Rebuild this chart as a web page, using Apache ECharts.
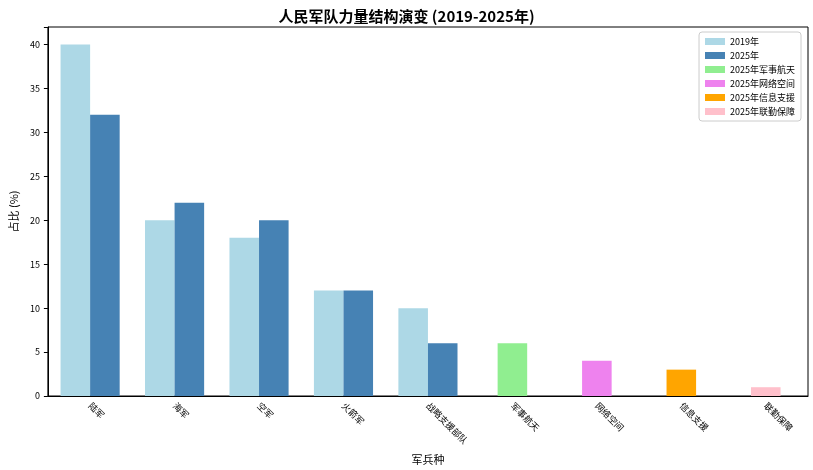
<!DOCTYPE html>
<html><head><meta charset="utf-8">
<script src="https://cdn.jsdelivr.net/npm/echarts@6/dist/echarts.min.js"></script>
<style>html,body{margin:0;padding:0;background:#fff}#c{width:813px;height:470px}</style>
</head><body><div id="c"></div>
<script>
const categories = ['陆军','海军','空军','火箭军','战略支援部队','军事航天','网络空间','信息支援','联勤保障'];
const v2019 = [40,20,18,12,10,null,null,null,null];
const v2025 = [32,22,20,12,6,null,null,null,null];
const newBranches = [
  {name:'2025年军事航天', idx:5, value:6, color:'#90ee90'},
  {name:'2025年网络空间', idx:6, value:4, color:'#ee82ee'},
  {name:'2025年信息支援', idx:7, value:3, color:'#ffa500'},
  {name:'2025年联勤保障', idx:8, value:1, color:'#ffc0cb'}
];
const yTicks = [0,5,10,15,20,25,30,35,40];
const font = 'Noto Sans CJK SC';
const chart = echarts.init(document.getElementById('c'));
const series = [
  {name:'2019年', type:'bar', data:v2019, barWidth:'35%', barGap:'0%', itemStyle:{color:'#add8e6'}},
  {name:'2025年', type:'bar', data:v2025, barWidth:'35%', barGap:'0%', itemStyle:{color:'#4682b4'}}
];
newBranches.forEach(b=>{
  series.push({name:b.name, type:'bar', xAxisIndex:1, stack:'new', barWidth:'35%',
    data:categories.map((c,i)=> i===b.idx ? b.value : null), itemStyle:{color:b.color}});
});
chart.setOption({
  animation:false,
  textStyle:{fontFamily:font},
  title:{text:'人民军队力量结构演变 (2019-2025年)', left:'center', top:4,
    textStyle:{fontSize:15, fontWeight:'bold', color:'#000', fontFamily:font}},
  legend:{orient:'vertical', right:12, top:32, itemWidth:20, itemHeight:7, itemGap:5,
    icon:'rect', textStyle:{fontSize:9, color:'#000'}, borderColor:'#ccc', borderWidth:1,
    padding:[5,6], borderRadius:3,
    data:['2019年','2025年'].concat(newBranches.map(b=>b.name))},
  grid:{left:38, right:5, top:27, bottom:72, show:true, borderColor:'#000', borderWidth:1},
  xAxis:[
    {type:'category', data:categories, name:'军兵种', nameLocation:'middle', nameGap:58,
     nameTextStyle:{fontSize:11, color:'#000'},
     axisLine:{lineStyle:{color:'#000'}}, axisTick:{alignWithLabel:true, lineStyle:{color:'#000'}, length:4},
     axisLabel:{rotate:-45, fontSize:9, color:'#000', margin:8, align:'left', verticalAlign:'middle', interval:0}},
    {type:'category', data:categories, show:false}
  ],
  yAxis:{type:'value', min:0, max:42, interval:5, name:'占比 (%)', nameLocation:'middle', nameGap:24,
    nameTextStyle:{fontSize:11, color:'#000'},
    axisLine:{show:true, lineStyle:{color:'#000'}}, axisTick:{show:true, length:4, lineStyle:{color:'#000'}},
    splitLine:{show:false},
    axisLabel:{fontSize:9, color:'#000', customValues:yTicks, formatter:v=>yTicks.includes(v)?String(v):''}},
  series
});
</script></body></html>
